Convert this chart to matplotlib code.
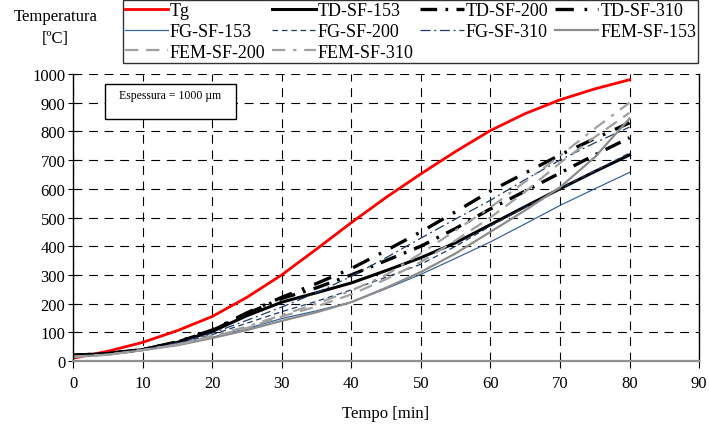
import matplotlib
matplotlib.use("Agg")
from matplotlib import pyplot as plt
from matplotlib.patches import Rectangle

plt.rcParams['font.family'] = ['Liberation Serif', 'DejaVu Serif']

# time axis [min]
tempo = [0, 5, 10, 15, 20, 25, 30, 35, 40, 45, 50, 55, 60, 65, 70, 75, 80]

tg = [10, 34, 65, 106, 155, 222, 300, 390, 482, 570, 652, 730, 803, 862, 910, 948, 980]

td_sf_153 = [20, 26, 40, 65, 103, 158, 205, 238, 272, 315, 360, 412, 475, 538, 600, 660, 718]
td_sf_200 = [20, 26, 40, 66, 106, 165, 218, 255, 300, 350, 400, 462, 530, 592, 655, 718, 778]
td_sf_310 = [20, 26, 40, 67, 108, 168, 222, 270, 322, 385, 450, 520, 592, 655, 718, 775, 830]

fg_sf_153 = [15, 22, 38, 57, 83, 113, 148, 175, 205, 252, 302, 358, 415, 478, 542, 600, 657]
fg_sf_200 = [15, 23, 40, 61, 92, 132, 172, 208, 248, 292, 337, 400, 470, 535, 600, 662, 725]
fg_sf_310 = [15, 23, 40, 63, 97, 142, 188, 238, 295, 360, 428, 495, 560, 632, 700, 760, 815]

fem_sf_153 = [15, 22, 38, 55, 80, 108, 140, 170, 205, 255, 310, 375, 450, 525, 605, 710, 845]
fem_sf_200 = [15, 22, 38, 57, 85, 115, 155, 190, 232, 285, 345, 420, 500, 590, 690, 780, 865]
fem_sf_310 = [15, 22, 38, 58, 88, 120, 160, 200, 245, 300, 375, 455, 535, 625, 715, 810, 900]

fig = plt.figure(figsize=(7.09, 4.31), dpi=100)
ax = fig.add_axes([0.103, 0.160, 0.883, 0.666])

blue_dark = '#1f3a66'
blue = '#3a6496'
gray = '#8c8c8c'
gray2 = '#a0a0a0'

h = {}
h['Tg'], = ax.plot(tempo, tg, color='#ff0000', lw=2.0, label='Tg')
h['TD-SF-153'], = ax.plot(tempo, td_sf_153, color='black', lw=2.2, label='TD-SF-153')
h['TD-SF-200'], = ax.plot(tempo, td_sf_200, color='black', lw=2.4, dashes=(5, 2.5, 0.8, 2.5),
                          label='TD-SF-200')
h['TD-SF-310'], = ax.plot(tempo, td_sf_310, color='black', lw=2.4, dashes=(5.5, 3.2, 0.8, 3.2),
                          label='TD-SF-310')
h['FG-SF-153'], = ax.plot(tempo, fg_sf_153, color=blue, lw=0.9, label='FG-SF-153')
h['FG-SF-200'], = ax.plot(tempo, fg_sf_200, color=blue_dark, lw=0.9, dashes=(4.5, 3),
                          label='FG-SF-200')
h['FG-SF-310'], = ax.plot(tempo, fg_sf_310, color=blue_dark, lw=0.9, dashes=(8, 3, 1.5, 3),
                          label='FG-SF-310')
h['FEM-SF-153'], = ax.plot(tempo, fem_sf_153, color=gray, lw=1.6, label='FEM-SF-153')
h['FEM-SF-200'], = ax.plot(tempo, fem_sf_200, color=gray2, lw=1.6, dashes=(6, 3.5),
                           label='FEM-SF-200')
h['FEM-SF-310'], = ax.plot(tempo, fem_sf_310, color=gray2, lw=1.6, dashes=(6, 3.5, 1.5, 3.5),
                           label='FEM-SF-310')

ax.set_xlim(0, 90)
ax.set_ylim(0, 1000)
ax.set_xticks(range(0, 91, 10))
ax.set_yticks(range(0, 1001, 100))
ax.grid(True, color='black', lw=0.8, dashes=(8, 6))
ax.set_axisbelow(True)
ax.spines['top'].set_visible(False)
ax.spines['bottom'].set_color('#909090')
ax.spines['bottom'].set_linewidth(1.6)
ax.spines['left'].set_linewidth(1.0)
ax.spines['right'].set_linewidth(1.0)
ax.tick_params(axis='y', direction='inout', length=7, labelsize=12, pad=2)
ax.tick_params(axis='x', direction='out', length=5, labelsize=12, pad=5)

ax.set_xlabel('Tempo [min]', fontsize=12, labelpad=10)
fig.text(0.078, 0.978, 'Temperatura\n[ºC]', ha='center', va='top', fontsize=12,
         linespacing=1.5)

# thickness box
ax.add_patch(Rectangle((0.051, 0.843), 0.209, 0.122, transform=ax.transAxes,
                       facecolor='white', edgecolor='black', lw=1.0, zorder=5))
ax.text(0.155, 0.928, 'Espessura = 1000 µm', transform=ax.transAxes, ha='center',
        va='center', fontsize=8.5, zorder=6)

order = ['Tg', 'FG-SF-153', 'FEM-SF-200', 'TD-SF-153', 'FG-SF-200', 'FEM-SF-310',
         'TD-SF-200', 'FG-SF-310', 'TD-SF-310', 'FEM-SF-153']
leg = fig.legend([h[k] for k in order], order, ncol=4, loc='lower left',
                 bbox_to_anchor=(0.173, 0.852, 0.812, 0.136), mode='expand',
                 fontsize=13, frameon=True, fancybox=False, edgecolor='black',
                 borderpad=0.12, labelspacing=0.2, handlelength=2.4,
                 handletextpad=0.1, columnspacing=0.3, borderaxespad=0)
leg.get_frame().set_linewidth(1.0)

fig.savefig('out.png', dpi=100)
